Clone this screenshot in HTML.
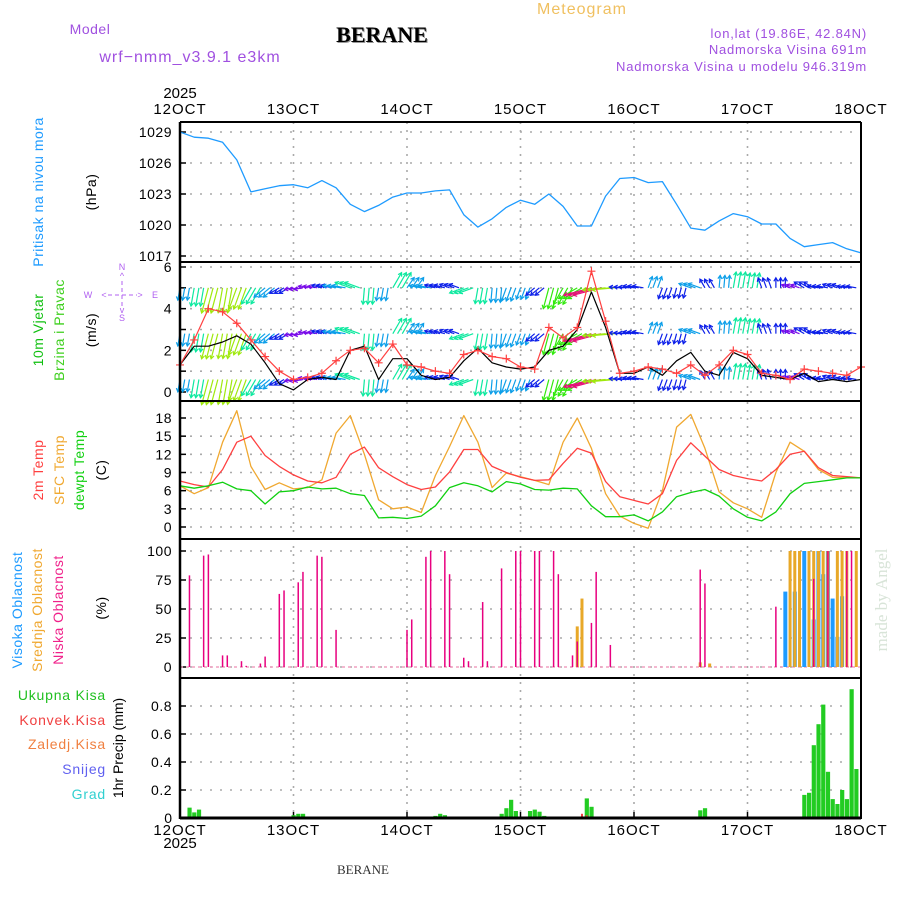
<!DOCTYPE html>
<html><head><meta charset="utf-8"><style>
html,body{margin:0;padding:0;background:#fff;}
svg{display:block;font-family:"Liberation Sans",sans-serif;}
</style></head><body>
<svg id="c" width="900" height="900" viewBox="0 0 900 900" xmlns="http://www.w3.org/2000/svg">
<text x="582" y="14" font-size="16" letter-spacing="1" fill="#f0c060" text-anchor="middle">Meteogram</text>
<text x="90" y="34" font-size="14" letter-spacing="0.5" fill="#a050e0" text-anchor="middle">Model</text>
<text x="383" y="43" font-size="22" font-weight="bold" font-family="Liberation Serif,serif" fill="#999" text-anchor="middle">BERANE</text>
<text x="382" y="42" font-size="22" font-weight="bold" font-family="Liberation Serif,serif" fill="#000" text-anchor="middle">BERANE</text>
<text x="190" y="62" font-size="16" letter-spacing="1" fill="#a050e0" text-anchor="middle">wrf−nmm_v3.9.1  e3km</text>
<text x="867" y="38" font-size="13" letter-spacing="0.8" fill="#a050e0" text-anchor="end">lon,lat (19.86E, 42.84N)</text>
<text x="867" y="54" font-size="13" letter-spacing="0.8" fill="#a050e0" text-anchor="end">Nadmorska Visina 691m</text>
<text x="867" y="71" font-size="13" letter-spacing="0.8" fill="#a050e0" text-anchor="end">Nadmorska Visina u modelu 946.319m</text>
<text x="180" y="98" font-size="15" fill="#000" text-anchor="middle">2025</text>
<text x="180" y="848" font-size="15" fill="#000" text-anchor="middle">2025</text>
<text x="363" y="874" font-size="13" font-family="Liberation Serif,serif" fill="#333" text-anchor="middle">BERANE</text>
<text transform="translate(887,600) rotate(-90)" font-size="17" font-family="Liberation Serif,serif" fill="#d8e4d8" text-anchor="middle">made by Angel</text>

<g letter-spacing="0.5">
<text transform="translate(43,192) rotate(-90)" font-size="14" fill="#1e9bff" text-anchor="middle">Pritisak na nivou mora</text>
<text transform="translate(96,192) rotate(-90)" font-size="14" fill="#000" text-anchor="middle">(hPa)</text>
<text transform="translate(43,330) rotate(-90)" font-size="14" fill="#10c010" text-anchor="middle">10m Vjetar</text>
<text transform="translate(64,330) rotate(-90)" font-size="14" fill="#40d020" text-anchor="middle">Brzina i Pravac</text>
<text transform="translate(96,330) rotate(-90)" font-size="14" fill="#000" text-anchor="middle">(m/s)</text>
</g>
<g fill="#b060f0" font-size="9" text-anchor="middle">
<text x="122" y="270">N</text><text x="122" y="279">^</text><text x="122" y="321">S</text><text x="122" y="313">v</text>
<text x="88" y="298">W</text><text x="155" y="298">E</text><text x="104" y="298">&lt;</text><text x="140" y="298">&gt;</text>
<line x1="108" y1="295" x2="137" y2="295" stroke="#b060f0" stroke-dasharray="4,3"/>
<line x1="122" y1="281" x2="122" y2="308" stroke="#b060f0" stroke-dasharray="4,3"/>
</g>
<g letter-spacing="0.5">
<text transform="translate(43,470) rotate(-90)" font-size="14" fill="#ff4040" text-anchor="middle">2m Temp</text>
<text transform="translate(64,470) rotate(-90)" font-size="14" fill="#f0a830" text-anchor="middle">SFC Temp</text>
<text transform="translate(84,470) rotate(-90)" font-size="14" fill="#10d010" text-anchor="middle">dewpt Temp</text>
<text transform="translate(106,470) rotate(-90)" font-size="14" fill="#000" text-anchor="middle">(C)</text>
<text transform="translate(22,610) rotate(-90)" font-size="14" fill="#1e9bff" text-anchor="middle">Visoka Oblacnost</text>
<text transform="translate(42,610) rotate(-90)" font-size="14" fill="#f0a830" text-anchor="middle">Srednja Oblacnost</text>
<text transform="translate(63,610) rotate(-90)" font-size="14" fill="#f0208a" text-anchor="middle">Niska Oblacnost</text>
<text transform="translate(106,608) rotate(-90)" font-size="14" fill="#000" text-anchor="middle">(%)</text>
</g>
<g font-size="14" text-anchor="end" letter-spacing="0.8">
<text x="106" y="700" fill="#20c020">Ukupna  Kisa</text>
<text x="106" y="725" fill="#f04040">Konvek.Kisa</text>
<text x="106" y="749" fill="#f08040">Zaledj.Kisa</text>
<text x="106" y="774" fill="#6060f0">Snijeg</text>
<text x="106" y="799" fill="#30d0d0">Grad</text>
</g>
<text transform="translate(123,748) rotate(-90)" font-size="14" fill="#000" text-anchor="middle">1hr Precip (mm)</text>
<g id="plot"></g>
</svg>
<script>
const days = ["12OCT","13OCT","14OCT","15OCT","16OCT","17OCT","18OCT"];
const hours3 = [0,3,6,9,12,15,18,21,24,27,30,33,36,39,42,45,48,51,54,57,60,63,66,69,72,75,78,81,84,87,90,93,96,99,102,105,108,111,114,117,120,123,126,129,132,135,138,141,144];
const pressure = [1029,1028.5,1028.4,1028.0,1026.3,1023.2,1023.5,1023.8,1023.9,1023.6,1024.3,1023.6,1022.0,1021.3,1021.9,1022.7,1023.1,1023.1,1023.3,1023.4,1021.0,1019.8,1020.6,1021.7,1022.4,1022.0,1023.0,1021.8,1019.9,1019.9,1022.8,1024.5,1024.6,1024.1,1024.2,1022.0,1019.7,1019.5,1020.4,1021.1,1020.8,1020.1,1020.1,1018.7,1017.9,1018.1,1018.3,1017.7,1017.3];
const windSpeed = [1.3,2.5,4.0,3.85,3.3,2.5,1.7,1.0,0.6,0.7,0.9,1.5,2.0,2.1,1.4,2.3,1.3,1.2,1.0,0.9,1.8,2.0,1.7,1.6,1.2,1.1,3.1,2.6,3.1,5.8,3.4,0.9,1.0,1.2,1.1,0.9,1.3,0.8,1.3,2.0,1.8,0.9,0.8,0.6,1.1,1.0,0.9,0.8,1.2];
const windAvg = [1.3,2.2,2.2,2.4,2.7,2.3,1.4,0.4,0.1,0.6,0.7,0.6,2.0,2.2,0.6,1.6,1.6,0.8,0.6,0.7,1.5,2.1,1.4,1.2,1.1,1.2,2.0,2.2,3.0,4.8,3.1,0.9,0.9,1.2,0.8,1.5,1.9,1.0,0.8,1.9,1.6,0.8,0.7,0.6,0.9,0.5,0.6,0.5,0.6];
const windDir = [100,100,105,100,110,120,140,150,170,190,195,190,200,95,100,300,305,190,195,200,160,100,95,110,110,140,105,120,150,165,175,185,190,290,110,105,200,240,275,280,280,250,270,200,210,190,200,190,200];
const temp2m = [7.6,7.0,6.6,9.5,14.0,15.0,11.8,10.0,8.6,7.6,7.3,8.2,12.0,13.2,9.8,8.3,7.0,6.2,6.6,9.1,12.8,12.8,10.0,9.0,8.2,7.7,7.8,10.5,13.0,12.2,7.5,5.0,4.4,3.8,5.5,11.0,13.9,11.7,9.5,8.5,8.0,7.6,9.5,12.0,12.5,9.8,8.5,8.3,8.1];
const tempSfc = [6.8,5.5,6.5,14.0,19.2,10.0,6.2,7.3,6.3,6.5,7.8,15.5,18.4,12.0,4.5,3.0,3.3,2.4,8.5,13.3,18.4,14.0,6.5,8.9,8.3,7.7,7.0,14.0,18.0,13.0,5.5,1.8,0.6,-0.2,6.0,16.5,18.6,13.0,5.8,4.0,3.0,1.6,9.0,14.0,12.5,9.5,8.2,8.1,8.1];
const dewpt = [6.8,6.4,6.8,7.4,6.3,6.0,3.8,5.8,6.0,6.6,6.3,6.4,5.5,5.2,1.5,1.6,1.4,1.8,3.5,6.5,7.3,6.8,5.8,7.5,7.1,6.2,6.1,6.4,6.3,3.5,1.7,1.7,2.0,1.0,2.5,5.0,5.7,6.2,5.1,3.0,1.6,1.0,2.5,5.5,7.2,7.5,7.8,8.1,8.1];
const lowCloudHours = [2,5,6,9,10,13,14,17,18,21,22,25,26,29,30,33,48,49,52,53,56,57,60,61,64,65,68,71,72,75,76,79,80,83,84,87,88,91,110,111,126,134,137,141,142];
const lowCloudVals = [79,96,97,10,10,5,1,3,9,63,66,73,82,96,95,32,32,41,95,100,100,80,8,5,56,5,85,100,100,100,100,100,80,10,22,38,82,19,84,72,52,76,100,100,100];
const midCloudHours = [84,85,110,112,129,130,131,133,134,135,136,137,139,140,141,143];
const midCloudVals = [35,59,4,3,100,100,100,100,100,100,100,100,100,100,100,100];
const highCloudHours = [128,130,132,134,135,136,137,138,139,140];
const highCloudVals = [65,65,100,41,100,80,100,59,26,61];
const precipHours = [2,3,4,23,24,25,26,54,55,56,68,69,70,71,72,74,75,76,77,86,87,110,111,131,132,133,134,135,136,137,138,139,140,141,142,143];
const precipVals = [0.074,0.04,0.06,0.01,0.02,0.03,0.03,0.015,0.03,0.02,0.03,0.07,0.13,0.05,0.01,0.05,0.06,0.045,0.015,0.14,0.08,0.055,0.07,0.01,0.165,0.18,0.52,0.67,0.81,0.33,0.135,0.10,0.2,0.135,0.92,0.35];
const convHours = [85,86];
const convVals = [0.03,0.02];

const NS="http://www.w3.org/2000/svg";
const root=document.getElementById('plot');
function mk(t,a,p){const e=document.createElementNS(NS,t);for(const k in a)e.setAttribute(k,a[k]);(p||root).appendChild(e);return e;}
const X0=180,X1=861;
const xs=h=>X0+h*(X1-X0)/144;
function lin(v0,y0,v1,y1){return v=>y0+(v-v0)*(y1-y0)/(v1-v0);}
const yP=lin(1017,256,1029,132), yW=lin(0,392,6,267), yT=lin(0,527,18,418), yC=lin(0,667,100,551), yR=lin(0,818,0.8,706);
const panels=[[122,262],[262,401],[401,539],[539,678],[678,818]];

const grid=mk('g',{});


function hgrid(vals,f,lab,fmt){vals.forEach(v=>{const y=f(v);
 const l=mk('line',{x1:X0,x2:X1,y1:y,y2:y,stroke:'#aaa','stroke-width':1.6,'stroke-dasharray':'2,8'},grid);
 
 mk('line',{x1:X0,x2:X0+6,y1:y,y2:y,stroke:'#000','stroke-width':1.5},grid);
 if(lab){const t=mk('text',{x:X0-8,y:y+5,'font-size':14,'text-anchor':'end',fill:'#000','letter-spacing':0.5},grid);t.textContent=fmt?fmt(v):v;
 }});}
hgrid([1017,1020,1023,1026,1029],yP,1);
hgrid([1,3,5],yW,0);hgrid([0,2,4,6],yW,1);
hgrid([0,3,6,9,12,15,18],yT,1);
hgrid([0,25,50,75,100],yC,1);
hgrid([0.2,0.4,0.6,0.8],yR,1,v=>v.toFixed(1));
mk('text',{x:X0-8,y:823,'font-size':14,'text-anchor':'end'},grid).textContent='0';
days.forEach((d,i)=>{const x=xs(i*24);
 if(i>0&&i<6){const l=mk('line',{x1:x,x2:x,y1:122,y2:818,stroke:'#aaa','stroke-width':1.6,'stroke-dasharray':'2,6'},grid);
 }
 const t=mk('text',{x:x,y:114,'font-size':15,'text-anchor':'middle','letter-spacing':1},grid);t.textContent=d;
 
 const b=mk('text',{x:x,y:835,'font-size':15,'text-anchor':'middle','letter-spacing':1},grid);b.textContent=d;
 
 mk('line',{x1:x,x2:x,y1:818,y2:812,stroke:'#000','stroke-width':1.5},grid);
});

function path(arr,f,color,name,w){let d='';arr.forEach((v,i)=>{d+=(i?'L':'M')+xs(hours3[i]).toFixed(1)+','+f(v).toFixed(1);});
 const p=mk('path',{d:d,fill:'none',stroke:color,'stroke-width':w||1.3,'stroke-linejoin':'round'});
 return p;}

path(pressure,yP,'#1e9bff','pressure-line');

function hue(s){return s<0.8?270:s<1.2?235:s<1.8?200:s<2.6?160:s<3.3?110:s<4.2?80:s<5?40:330;}
const wg=mk('g',{});


[5.0,2.8,0.6].forEach(base=>{
 hours3.forEach((h,i)=>{if(h>=144)return;const s=windSpeed[i],a=windDir[i]*Math.PI/180;
  for(let k=0;k<3;k++){const x=xs(h+k),y=yW(base);const L=6+5*Math.min(s,4.5);
   const x2=x+L*Math.cos(a),y2=y+L*Math.sin(a);const c='hsl('+hue(s)+',90%,48%)';
   const ar=mk('g',{},wg);
   
   mk('line',{x1:x,y1:y,x2:x2,y2:y2,stroke:c,'stroke-width':1.2},ar);
   const b1=a+2.6,b2=a-2.6;
   mk('path',{d:`M${x2+4*Math.cos(b1)},${y2+4*Math.sin(b1)}L${x2},${y2}L${x2+4*Math.cos(b2)},${y2+4*Math.sin(b2)}`,fill:'none',stroke:c,'stroke-width':1.2},ar);}
 });});
path(windAvg,yW,'#000','wind-mean-line',1.2);
path(windSpeed,yW,'#ff4040','wind-gust-line',1.2);
hours3.forEach((h,i)=>{const x=xs(h),y=yW(windSpeed[i]);
 const m=mk('path',{d:`M${x-4},${y}H${x+4}M${x},${y-4}V${y+4}`,stroke:'#ff4040','stroke-width':1.2});
 });

path(tempSfc,yT,'#f0a830','sfc-temp-line');
path(temp2m,yT,'#ff4040','temp-2m-line');
path(dewpt,yT,'#10d010','dewpoint-line');

mk('line',{x1:X0,x2:X1,y1:yC(0),y2:yC(0),stroke:'#f0a0c0','stroke-width':1.5,'stroke-dasharray':'3,3'});
highCloudHours.forEach((h,i)=>{const r=mk('rect',{x:xs(h)-2,y:yC(highCloudVals[i]),width:4,height:yC(0)-yC(highCloudVals[i]),fill:'#1e9bff'});
 });
midCloudHours.forEach((h,i)=>{const r=mk('rect',{x:xs(h)-1.5,y:yC(midCloudVals[i]),width:3,height:yC(0)-yC(midCloudVals[i]),fill:'#e8a828'});
 });
lowCloudHours.forEach((h,i)=>{const r=mk('rect',{x:xs(h)-0.75,y:yC(lowCloudVals[i]),width:1.5,height:yC(0)-yC(lowCloudVals[i]),fill:'#e8007f'});
 });

precipHours.forEach((h,i)=>{const r=mk('rect',{x:xs(h)-2,y:yR(precipVals[i]),width:4.2,height:818-yR(precipVals[i]),fill:'#22cc22'});
 });
convHours.forEach((h,i)=>{const r=mk('rect',{x:xs(h)-1,y:yR(convVals[i]),width:2,height:818-yR(convVals[i]),fill:'#f04040'});
 });

const fr=mk('g',{});


panels.forEach(([a,b])=>{mk('line',{x1:X0,x2:X1,y1:a,y2:a,stroke:'#000','stroke-width':2},fr);});
mk('line',{x1:X0,x2:X1,y1:818,y2:818,stroke:'#000','stroke-width':3},fr);
mk('line',{x1:X0,x2:X0,y1:122,y2:819,stroke:'#000','stroke-width':2.5},fr);
mk('line',{x1:X1,x2:X1,y1:122,y2:819,stroke:'#000','stroke-width':2},fr);
</script>
</body></html>
